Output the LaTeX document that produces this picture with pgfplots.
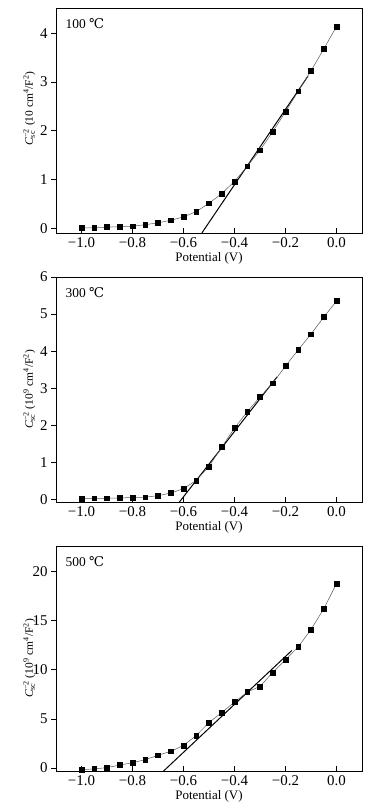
\documentclass[border=0pt]{standalone}
\usepackage{fontspec}
\setmainfont{Liberation Serif}
\newfontfamily\dejavu{DejaVu Serif}
\usepackage{pgfplots}
\pgfplotsset{compat=1.18}
\newcommand{\Csc}{\textit{C}\textsubscript{sc}\hspace{-0.72em}\textsuperscript{\,−2}}
\pgfplotsset{
  panel/.style={
    scale only axis, width=306bp, height=225bp,
    xmin=-1.1, xmax=0.1,
    xtick={-1,-0.8,-0.6,-0.4,-0.2,0},
    xticklabels={−1.0,−0.8,−0.6,−0.4,−0.2,0.0},
    tick label style={font=\fontsize{15}{17}\selectfont},
    xlabel style={font=\fontsize{13}{15}\selectfont},
    ylabel style={font=\fontsize{11.5}{13}\selectfont},
    /pgf/number format/assume math mode=true,
    xtick pos=bottom, ytick pos=left,
    xtick align=inside, ytick align=outside,
    major tick length=5bp,
    every tick/.style={black, line width=0.6pt},
    axis line style={line width=0.8pt},
    xlabel={Potential (V)},
    xlabel style={at={(axis description cs:0.5,-0.111)}, anchor=center},
    ylabel style={at={(axis description cs:-0.087,0.5)}, anchor=center},
    xticklabel style={yshift=-1bp},
    clip=false,
  },
  data/.style={gray!70!black, line width=0.5pt, mark=square*, mark size=2.4bp, mark options={black, solid}},
  fit/.style={black, line width=1pt, mark=none},
}
\begin{document}
\begin{tikzpicture}
\path[use as bounding box] (0,0) rectangle (382bp,809bp);
% Panel 1
\begin{axis}[panel, at={(56bp,576bp)}, anchor=south west,
  ymin=-0.1, ymax=4.52, ytick={0,1,2,3,4},
  ylabel style={at={(axis description cs:-0.087,0.553)}},
  ylabel={\Csc\ (10 cm\textsuperscript{4}/F\textsuperscript{2})}]
\addplot[fit] coordinates {(-0.528,-0.1) (-0.112,3.12)};
\addplot[data] coordinates {
(-1.0,0.0) (-0.95,0.01) (-0.9,0.02) (-0.85,0.03) (-0.8,0.04) (-0.75,0.07)
(-0.7,0.11) (-0.65,0.16) (-0.6,0.23) (-0.55,0.34) (-0.5,0.51) (-0.45,0.71)
(-0.4,0.96) (-0.35,1.27) (-0.3,1.60) (-0.25,1.98) (-0.2,2.39) (-0.15,2.81)
(-0.1,3.23) (-0.05,3.68) (0.0,4.14)};
\node[anchor=north west, font=\fontsize{13.5}{15}\selectfont] at (axis description cs:0.02,0.97) {100 {\dejavu ℃}};
\end{axis}
% Panel 2
\begin{axis}[panel, at={(56bp,307bp)}, anchor=south west,
  ymin=-0.06, ymax=6.0, ytick={0,1,2,3,4,5,6},
  ylabel={\Csc\ (10\textsuperscript{9} cm\textsuperscript{4}/F\textsuperscript{2})}]
\addplot[fit] coordinates {(-0.616,-0.06) (-0.233,3.31)};
\addplot[data] coordinates {
(-1.0,0.03) (-0.95,0.04) (-0.9,0.04) (-0.85,0.05) (-0.8,0.06) (-0.75,0.07)
(-0.7,0.11) (-0.65,0.18) (-0.6,0.30) (-0.55,0.52) (-0.5,0.90) (-0.45,1.42)
(-0.4,1.93) (-0.35,2.37) (-0.3,2.77) (-0.25,3.14) (-0.2,3.60) (-0.15,4.04)
(-0.1,4.46) (-0.05,4.92) (0.0,5.35)};
\node[anchor=north west, font=\fontsize{13.5}{15}\selectfont] at (axis description cs:0.02,0.97) {300 {\dejavu ℃}};
\end{axis}
% Panel 3
\begin{axis}[panel, at={(56bp,38bp)}, anchor=south west,
  ymin=-0.3, ymax=22.6, ytick={0,5,10,15,20},
  ylabel={\Csc\ (10\textsuperscript{9} cm\textsuperscript{4}/F\textsuperscript{2})}]
\addplot[fit] coordinates {(-0.678,-0.3) (-0.175,11.97)};
\addplot[data] coordinates {
(-1.0,-0.15) (-0.95,-0.1) (-0.9,0.05) (-0.85,0.3) (-0.8,0.55) (-0.75,0.85)
(-0.7,1.3) (-0.65,1.7) (-0.6,2.3) (-0.55,3.32) (-0.5,4.63) (-0.45,5.66)
(-0.4,6.71) (-0.35,7.73) (-0.3,8.31) (-0.25,9.73) (-0.2,11.02) (-0.15,12.34)
(-0.1,14.1) (-0.05,16.2) (0.0,18.78)};
\node[anchor=north west, font=\fontsize{13.5}{15}\selectfont] at (axis description cs:0.02,0.97) {500 {\dejavu ℃}};
\end{axis}
\end{tikzpicture}
\end{document}
